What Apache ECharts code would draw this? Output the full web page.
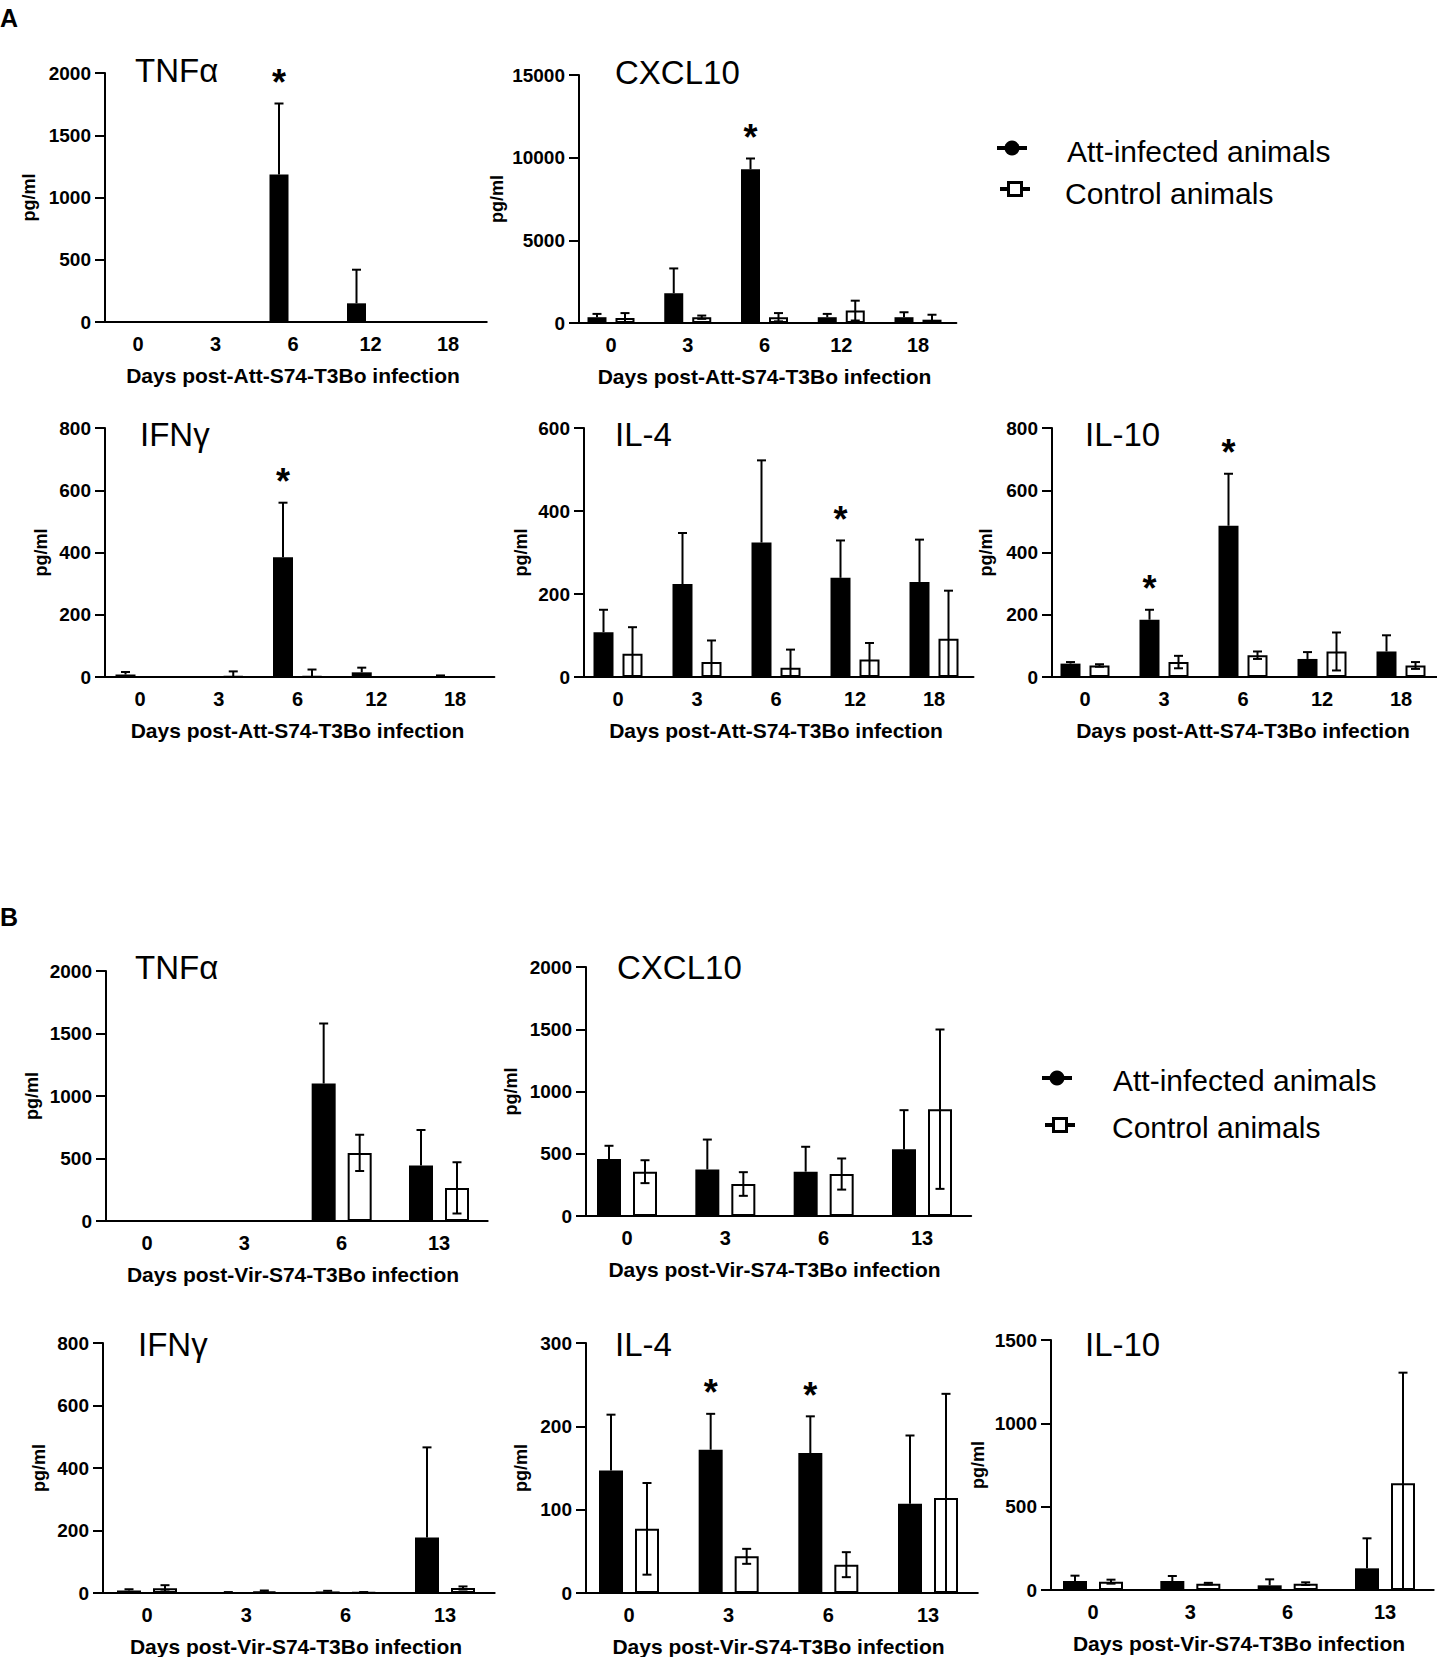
<!DOCTYPE html>
<html>
<head>
<meta charset="utf-8">
<script src="https://cdn.jsdelivr.net/npm/echarts@6/dist/echarts.min.js"></script>
<style>
  html, body { margin: 0; padding: 0; background: #fff; }
  #chart { width: 1437px; height: 1657px; }
</style>
</head>
<body>
<div id="chart"></div>
<script>
// days on the x axis
var daysA = ['0', '3', '6', '12', '18'];
var daysB = ['0', '3', '6', '13'];
var xNameA = 'Days post-Att-S74-T3Bo infection';
var xNameB = 'Days post-Vir-S74-T3Bo infection';
var seriesNames = ['Att-infected animals', 'Control animals'];

// A - TNFα
var aTnfAtt = [0, 0, 1185, 150, 0];
var aTnfAttSd = [0, 0, 570, 270, 0];
var aTnfCtrl = [0, 0, 0, 0, 0];
var aTnfCtrlSd = [0, 0, 0, 0, 0];
var aTnfStars = [2];
// A - CXCL10
var aCxAtt = [350, 1800, 9300, 350, 350];
var aCxAttSd = [200, 1500, 650, 200, 300];
var aCxCtrl = [300, 350, 350, 750, 200];
var aCxCtrlSd = [300, 100, 250, 600, 300];
var aCxStars = [2];
// A - IFNγ
var aIfnAtt = [8, 0, 385, 15, 3];
var aIfnAttSd = [8, 0, 175, 15, 2];
var aIfnCtrl = [0, 2, 2, 0, 0];
var aIfnCtrlSd = [0, 16, 22, 0, 0];
var aIfnStars = [2];
// A - IL-4
var aIl4Att = [108, 224, 324, 239, 229];
var aIl4AttSd = [54, 123, 198, 90, 102];
var aIl4Ctrl = [56, 36, 22, 42, 92];
var aIl4CtrlSd = [64, 52, 44, 40, 116];
var aIl4Stars = [3];
// A - IL-10
var aIl10Att = [43, 184, 486, 58, 82];
var aIl10AttSd = [5, 32, 167, 22, 52];
var aIl10Ctrl = [37, 48, 70, 82, 37];
var aIl10CtrlSd = [4, 20, 12, 61, 11];
var aIl10Stars = [1, 2];
// B - TNFα
var bTnfAtt = [0, 0, 1100, 445];
var bTnfAttSd = [0, 0, 480, 283];
var bTnfCtrl = [0, 0, 545, 265];
var bTnfCtrlSd = [0, 0, 145, 205];
var bTnfStars = [];
// B - CXCL10
var bCxAtt = [457, 374, 356, 537];
var bCxAttSd = [107, 240, 200, 313];
var bCxCtrl = [356, 257, 337, 858];
var bCxCtrlSd = [92, 95, 125, 640];
var bCxStars = [];
// B - IFNγ
var bIfnAtt = [8, 2, 5, 178];
var bIfnAttSd = [4, 1, 2, 288];
var bIfnCtrl = [15, 5, 2, 16];
var bIfnCtrlSd = [10, 3, 1, 5];
var bIfnStars = [];
// B - IL-4
var bIl4Att = [147, 172, 168, 107];
var bIl4AttSd = [67, 43, 44, 82];
var bIl4Ctrl = [77, 44, 34, 114];
var bIl4CtrlSd = [55, 9, 15, 125];
var bIl4Stars = [1, 2];
// B - IL-10
var bIl10Att = [54, 54, 28, 130];
var bIl10AttSd = [32, 30, 36, 180];
var bIl10Ctrl = [50, 38, 38, 640];
var bIl10CtrlSd = [12, 5, 8, 664];
var bIl10Stars = [];

var FONT = "'Liberation Sans', Arial, sans-serif";

// panel layout: yx = y axis x, c0/c1 = first/last day tick, top/base = y of max and 0
var panels = [
    { name: 'TNFα', days: daysA, att: aTnfAtt, attSd: aTnfAttSd, ctrl: aTnfCtrl, ctrlSd: aTnfCtrlSd, stars: aTnfStars,
      max: 2000, step: 500, xName: xNameA, yx: 105, c0: 138, c1: 448, top: 73, base: 322, yGap: 67, tx: 135, ty: 83, bw: 19, gap: 9 },
    { name: 'CXCL10', days: daysA, att: aCxAtt, attSd: aCxAttSd, ctrl: aCxCtrl, ctrlSd: aCxCtrlSd, stars: aCxStars,
      max: 15000, step: 5000, xName: xNameA, yx: 579, c0: 611, c1: 918, top: 75, base: 323, yGap: 73, tx: 615, ty: 85, bw: 19, gap: 9 },
    { name: 'IFNγ', days: daysA, att: aIfnAtt, attSd: aIfnAttSd, ctrl: aIfnCtrl, ctrlSd: aIfnCtrlSd, stars: aIfnStars,
      max: 800, step: 200, xName: xNameA, yx: 105, c0: 140, c1: 455, top: 428, base: 677, yGap: 55, tx: 140, ty: 447, bw: 20, gap: 9 },
    { name: 'IL-4', days: daysA, att: aIl4Att, attSd: aIl4AttSd, ctrl: aIl4Ctrl, ctrlSd: aIl4CtrlSd, stars: aIl4Stars,
      max: 600, step: 200, xName: xNameA, yx: 584, c0: 618, c1: 934, top: 428, base: 677, yGap: 54, tx: 615, ty: 447, bw: 20, gap: 9 },
    { name: 'IL-10', days: daysA, att: aIl10Att, attSd: aIl10AttSd, ctrl: aIl10Ctrl, ctrlSd: aIl10CtrlSd, stars: aIl10Stars,
      max: 800, step: 200, xName: xNameA, yx: 1052, c0: 1085, c1: 1401, top: 428, base: 677, yGap: 57, tx: 1085, ty: 447, bw: 20, gap: 9 },
    { name: 'TNFα', days: daysB, att: bTnfAtt, attSd: bTnfAttSd, ctrl: bTnfCtrl, ctrlSd: bTnfCtrlSd, stars: bTnfStars,
      max: 2000, step: 500, xName: xNameB, yx: 106, c0: 147, c1: 439, top: 971, base: 1221, yGap: 65, tx: 135, ty: 980, bw: 24, gap: 12 },
    { name: 'CXCL10', days: daysB, att: bCxAtt, attSd: bCxAttSd, ctrl: bCxCtrl, ctrlSd: bCxCtrlSd, stars: bCxStars,
      max: 2000, step: 500, xName: xNameB, yx: 586, c0: 627, c1: 922, top: 967, base: 1216, yGap: 66, tx: 617, ty: 980, bw: 24, gap: 12 },
    { name: 'IFNγ', days: daysB, att: bIfnAtt, attSd: bIfnAttSd, ctrl: bIfnCtrl, ctrlSd: bIfnCtrlSd, stars: bIfnStars,
      max: 800, step: 200, xName: xNameB, yx: 103, c0: 147, c1: 445, top: 1343, base: 1593, yGap: 55, tx: 138, ty: 1357, bw: 24, gap: 12 },
    { name: 'IL-4', days: daysB, att: bIl4Att, attSd: bIl4AttSd, ctrl: bIl4Ctrl, ctrlSd: bIl4CtrlSd, stars: bIl4Stars,
      max: 300, step: 100, xName: xNameB, yx: 586, c0: 629, c1: 928, top: 1343, base: 1593, yGap: 56, tx: 615, ty: 1357, bw: 24, gap: 12 },
    { name: 'IL-10', days: daysB, att: bIl10Att, attSd: bIl10AttSd, ctrl: bIl10Ctrl, ctrlSd: bIl10CtrlSd, stars: bIl10Stars,
      max: 1500, step: 500, xName: xNameB, yx: 1051, c0: 1093, c1: 1385, top: 1340, base: 1590, yGap: 64, tx: 1085, ty: 1357, bw: 24, gap: 12 }
];

// error bar with caps; side -1 = att bar (only the upper half shows), +1 = control bar
function errorItem(off, cap) {
    return function (params, api) {
        var sd = api.value(2);
        if (!sd) return;
        var idx = api.value(0), m = api.value(1), side = api.value(3);
        var hi = api.coord([idx, m + sd]);
        var lo = api.coord([idx, side < 0 ? m : Math.max(0, m - sd)]);
        var x = hi[0] + side * off;
        var st = { stroke: '#000', lineWidth: 2 };
        var parts = [
            { type: 'line', shape: { x1: x, y1: hi[1], x2: x, y2: lo[1] }, style: st },
            { type: 'line', shape: { x1: x - cap / 2, y1: hi[1], x2: x + cap / 2, y2: hi[1] }, style: st }
        ];
        if (side > 0) {
            parts.push({ type: 'line', shape: { x1: x - cap / 2, y1: lo[1], x2: x + cap / 2, y2: lo[1] }, style: st });
        }
        return { type: 'group', children: parts };
    };
}

function starItem(off) {
    return function (params, api) {
        var p = api.coord([api.value(0), api.value(1)]);
        return {
            type: 'text',
            x: p[0] - off,
            y: p[1] - 21,
            style: { text: '*', fontSize: 36, fontWeight: 'bold', fontFamily: FONT, fill: '#000', align: 'center', verticalAlign: 'middle' }
        };
    };
}

var grids = [], xAxes = [], yAxes = [], series = [];
var titles = [
    { text: 'A', left: 0, top: 5, padding: 0, textStyle: { fontSize: 25, fontWeight: 'bold', color: '#000', fontFamily: FONT } },
    { text: 'B', left: 0, top: 904, padding: 0, textStyle: { fontSize: 25, fontWeight: 'bold', color: '#000', fontFamily: FONT } }
];

panels.forEach(function (p, i) {
    var n = p.days.length;
    var sp = (p.c1 - p.c0) / (n - 1);
    var left = p.c0 - sp / 2;
    var off = (p.bw + p.gap) / 2;

    grids.push({ left: left, top: p.top, width: sp * n, height: p.base - p.top, outerBoundsMode: 'none' });

    xAxes.push({
        type: 'category', gridIndex: i, data: p.days,
        axisLine: { lineStyle: { color: '#000', width: 2 } },
        axisTick: { alignWithLabel: true, length: 8, lineStyle: { color: '#000', width: 2 } },
        axisLabel: { color: '#000', fontSize: 20, fontWeight: 'bold', fontFamily: FONT, margin: 12 },
        splitLine: { show: false },
        name: p.xName, nameLocation: 'middle', nameGap: 43,
        nameTextStyle: { color: '#000', fontSize: 21, fontWeight: 'bold', fontFamily: FONT }
    });

    yAxes.push({
        type: 'value', gridIndex: i, min: 0, max: p.max, interval: p.step,
        offset: left - p.yx,
        axisLine: { show: true, lineStyle: { color: '#000', width: 2 } },
        axisTick: { show: true, length: 10, lineStyle: { color: '#000', width: 2 } },
        axisLabel: {
            color: '#000', fontSize: 19, fontWeight: 'bold', fontFamily: FONT, margin: 14,
            formatter: function (v) { return String(v); }
        },
        splitLine: { show: false },
        name: 'pg/ml', nameLocation: 'middle', nameGap: p.yGap,
        nameTextStyle: { color: '#000', fontSize: 18, fontWeight: 'bold', fontFamily: FONT }
    });

    titles.push({
        text: p.name, left: p.tx, top: p.ty - 29, padding: 0,
        textStyle: { fontSize: 33, fontWeight: 'normal', color: '#000', fontFamily: FONT }
    });

    series.push({
        name: seriesNames[0], type: 'bar', xAxisIndex: i, yAxisIndex: i,
        data: p.att, barWidth: p.bw, barGap: (p.gap / p.bw * 100) + '%',
        itemStyle: { color: '#000' }
    });
    series.push({
        name: seriesNames[1], type: 'bar', xAxisIndex: i, yAxisIndex: i,
        data: p.ctrl, barWidth: p.bw,
        itemStyle: { color: '#fff', borderColor: '#000', borderWidth: 2 }
    });

    var errRows = [];
    p.days.forEach(function (d, k) {
        errRows.push([k, p.att[k], p.attSd[k], -1]);
        errRows.push([k, p.ctrl[k], p.ctrlSd[k], 1]);
    });
    series.push({
        type: 'custom', xAxisIndex: i, yAxisIndex: i, z: 5,
        renderItem: errorItem(off, 9), encode: { x: 0, y: 1 },
        data: errRows, silent: true
    });

    if (p.stars.length) {
        series.push({
            type: 'custom', xAxisIndex: i, yAxisIndex: i, z: 5,
            renderItem: starItem(off), encode: { x: 0, y: 1 },
            data: p.stars.map(function (k) { return [k, p.att[k] + p.attSd[k]]; }),
            silent: true
        });
    }
});

// legend drawn as graphic: line+dot for infected, line+open square for control
function legendBlock(ix1, iy1, tx1, ty1, ix2, iy2, tx2, ty2) {
    return [
        { type: 'line', shape: { x1: ix1 - 15, y1: iy1, x2: ix1 + 15, y2: iy1 }, style: { stroke: '#000', lineWidth: 4 } },
        { type: 'circle', shape: { cx: ix1, cy: iy1, r: 7.5 }, style: { fill: '#000' } },
        { type: 'text', x: tx1, y: ty1, style: { text: seriesNames[0], fontSize: 30, fontFamily: FONT, fill: '#000', verticalAlign: 'middle' } },
        { type: 'line', shape: { x1: ix2 - 15, y1: iy2, x2: ix2 + 15, y2: iy2 }, style: { stroke: '#000', lineWidth: 4 } },
        { type: 'rect', shape: { x: ix2 - 6.5, y: iy2 - 6.5, width: 13, height: 13 }, style: { fill: '#fff', stroke: '#000', lineWidth: 3 } },
        { type: 'text', x: tx2, y: ty2, style: { text: seriesNames[1], fontSize: 30, fontFamily: FONT, fill: '#000', verticalAlign: 'middle' } }
    ];
}

var chart = echarts.init(document.getElementById('chart'), null, { renderer: 'svg' });
chart.setOption({
    animation: false,
    backgroundColor: '#fff',
    title: titles,
    grid: grids,
    xAxis: xAxes,
    yAxis: yAxes,
    series: series,
    graphic: legendBlock(1012, 148, 1067, 151, 1015, 189, 1065, 193)
        .concat(legendBlock(1057, 1078, 1113, 1080, 1060, 1125, 1112, 1127))
});
</script>
</body>
</html>
